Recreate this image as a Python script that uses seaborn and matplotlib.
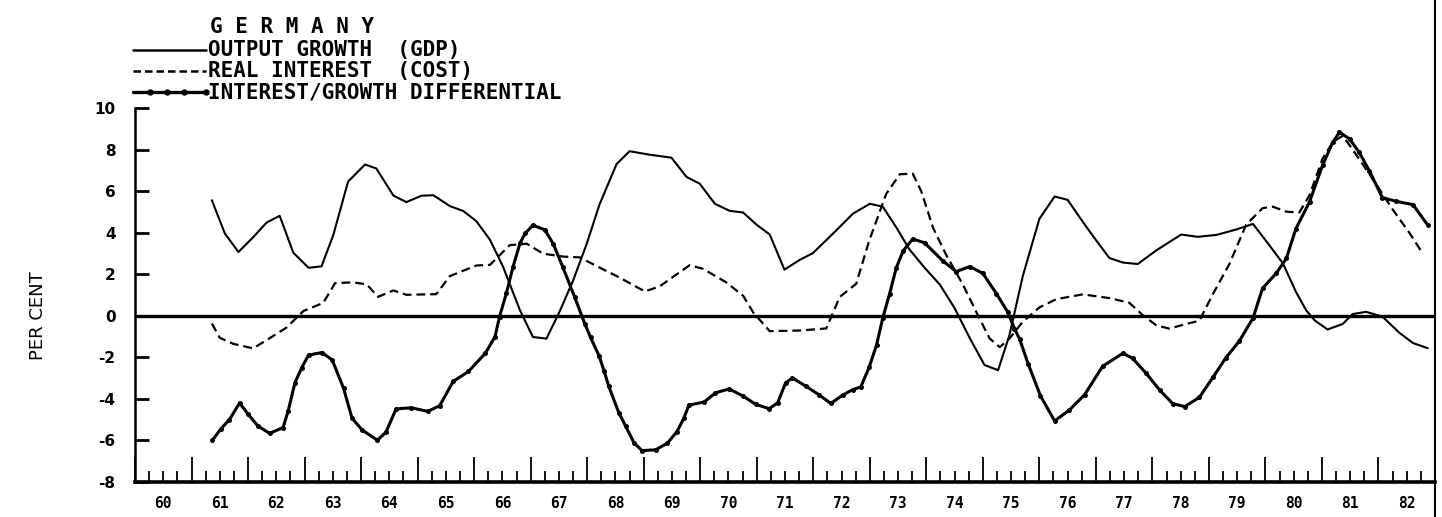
import matplotlib
matplotlib.use("Agg")
import matplotlib.pyplot as plt
from matplotlib.lines import Line2D
from matplotlib.ticker import FixedLocator
import seaborn as sns
import pandas as pd

# ---------------- data ----------------
growth_t = [1961.36, 1961.59, 1961.83, 1962.09, 1962.33, 1962.56, 1962.80, 1963.07, 1963.30, 1963.51,
            1963.77, 1964.07, 1964.27, 1964.57, 1964.80, 1965.07, 1965.28, 1965.57, 1965.81, 1966.04,
            1966.28, 1966.51, 1966.81, 1967.04, 1967.28, 1967.52, 1967.75, 1967.99, 1968.22, 1968.52,
            1968.75, 1969.11, 1969.49, 1969.76, 1969.99, 1970.26, 1970.52, 1970.76, 1970.99, 1971.23,
            1971.49, 1971.76, 1971.99, 1972.23, 1972.47, 1972.70, 1973.00, 1973.23, 1973.47, 1973.70,
            1973.97, 1974.24, 1974.50, 1974.77, 1975.03, 1975.27, 1975.47, 1975.71, 1976.00, 1976.27,
            1976.50, 1976.80, 1977.04, 1977.24, 1977.48, 1977.74, 1978.07, 1978.51, 1978.80, 1979.13,
            1979.48, 1979.78, 1980.04, 1980.31, 1980.54, 1980.72, 1980.87, 1981.10, 1981.37, 1981.54,
            1981.78, 1982.07, 1982.37, 1982.61, 1982.87]
growth_v = [5.56, 3.96, 3.07, 3.78, 4.49, 4.81, 3.04, 2.31, 2.38, 3.90,
            6.46, 7.28, 7.09, 5.79, 5.47, 5.78, 5.80, 5.28, 5.04, 4.55,
            3.66, 2.37, 0.27, -1.02, -1.10, 0.25, 1.69, 3.45, 5.37, 7.30,
            7.92, 7.75, 7.61, 6.68, 6.36, 5.39, 5.05, 4.97, 4.40, 3.91,
            2.22, 2.69, 3.01, 3.64, 4.28, 4.91, 5.39, 5.25, 4.25, 3.20,
            2.31, 1.50, 0.37, -1.08, -2.37, -2.62, -0.94, 1.94, 4.66, 5.74,
            5.58, 4.40, 3.50, 2.78, 2.56, 2.49, 3.15, 3.91, 3.80, 3.89,
            4.15, 4.42, 3.50, 2.52, 1.15, 0.27, -0.22, -0.66, -0.39, 0.08,
            0.19, -0.04, -0.82, -1.31, -1.56]

interest_t = [1961.36, 1961.50, 1961.74, 1962.09, 1962.40, 1962.68, 1962.98, 1963.33, 1963.54, 1963.86,
              1964.10, 1964.30, 1964.57, 1964.80, 1965.33, 1965.57, 1966.04, 1966.28, 1966.63, 1966.93,
              1967.22, 1967.57, 1967.87, 1968.22, 1968.58, 1969.02, 1969.28, 1969.81, 1970.05, 1970.46,
              1970.76, 1970.94, 1971.23, 1971.76, 1972.23, 1972.47, 1972.76, 1972.99, 1973.29, 1973.53,
              1973.76, 1973.91, 1974.12, 1974.35, 1974.65, 1974.91, 1975.12, 1975.30, 1975.47, 1975.70,
              1976.00, 1976.30, 1976.77, 1977.24, 1977.59, 1977.83, 1978.07, 1978.30, 1978.60, 1978.83,
              1979.07, 1979.36, 1979.66, 1979.95, 1980.13, 1980.37, 1980.60, 1980.78, 1981.01, 1981.19,
              1981.37, 1981.66, 1982.02, 1982.25, 1982.55, 1982.78]
interest_v = [-0.37, -1.06, -1.35, -1.57, -1.05, -0.57, 0.23, 0.62, 1.57, 1.61,
              1.51, 0.91, 1.22, 1.01, 1.04, 1.91, 2.42, 2.45, 3.40, 3.47,
              2.99, 2.85, 2.81, 2.32, 1.83, 1.17, 1.41, 2.43, 2.26, 1.61,
              0.96, 0.15, -0.74, -0.71, -0.61, 0.91, 1.54, 3.62, 5.86, 6.81,
              6.84, 6.00, 4.23, 2.94, 1.49, 0.04, -1.09, -1.51, -1.10, -0.31,
              0.40, 0.80, 1.03, 0.85, 0.63, 0.03, -0.46, -0.62, -0.39, -0.24,
              1.04, 2.48, 4.39, 5.18, 5.25, 5.01, 4.97, 5.80, 7.56, 8.35,
              8.67, 7.54, 6.08, 5.12, 3.98, 3.01]

diff_t = [1961.37, 1961.52, 1961.67, 1961.85, 1962.00, 1962.17, 1962.38, 1962.62, 1962.71, 1962.83,
          1962.95, 1963.07, 1963.31, 1963.49, 1963.69, 1963.84, 1964.02, 1964.29, 1964.44, 1964.62,
          1964.89, 1965.18, 1965.39, 1965.63, 1965.90, 1966.20, 1966.37, 1966.45, 1966.57, 1966.69,
          1966.81, 1966.90, 1967.04, 1967.25, 1967.40, 1967.57, 1967.78, 1967.96, 1968.06, 1968.21,
          1968.30, 1968.38, 1968.56, 1968.68, 1968.83, 1968.97, 1969.21, 1969.42, 1969.59, 1969.71,
          1969.80, 1970.07, 1970.27, 1970.51, 1970.75, 1970.98, 1971.22, 1971.37, 1971.51, 1971.63,
          1971.87, 1972.10, 1972.31, 1972.52, 1972.70, 1972.84, 1972.99, 1973.12, 1973.23, 1973.35,
          1973.47, 1973.59, 1973.76, 1973.97, 1974.30, 1974.53, 1974.77, 1975.00, 1975.24, 1975.44,
          1975.56, 1975.65, 1975.80, 1976.02, 1976.27, 1976.53, 1976.80, 1977.12, 1977.48, 1977.65,
          1977.89, 1978.13, 1978.36, 1978.57, 1978.83, 1979.07, 1979.30, 1979.54, 1979.78, 1979.95,
          1980.19, 1980.37, 1980.54, 1980.78, 1981.01, 1981.19, 1981.31, 1981.49, 1981.66, 1981.84,
          1982.07, 1982.31, 1982.61, 1982.87]
diff_v = [-5.99, -5.44, -5.00, -4.20, -4.73, -5.29, -5.66, -5.38, -4.58, -3.22,
          -2.50, -1.89, -1.77, -2.13, -3.49, -4.93, -5.50, -5.99, -5.60, -4.48,
          -4.43, -4.60, -4.33, -3.16, -2.68, -1.80, -1.00, -0.04, 1.08, 2.37,
          3.48, 3.96, 4.36, 4.14, 3.46, 2.34, 0.89, -0.40, -1.04, -1.93,
          -2.66, -3.38, -4.67, -5.31, -6.12, -6.49, -6.45, -6.13, -5.57, -4.93,
          -4.30, -4.15, -3.71, -3.52, -3.85, -4.26, -4.47, -4.19, -3.23, -2.99,
          -3.39, -3.80, -4.22, -3.82, -3.55, -3.43, -2.47, -1.40, -0.10, 1.05,
          2.32, 3.12, 3.70, 3.51, 2.62, 2.13, 2.37, 2.04, 1.07, 0.18,
          -0.62, -1.11, -2.30, -3.85, -5.06, -4.54, -3.80, -2.43, -1.80, -2.05,
          -2.77, -3.58, -4.23, -4.37, -3.93, -2.97, -2.02, -1.21, -0.11, 1.33,
          2.04, 2.76, 4.20, 5.48, 7.24, 8.35, 8.83, 8.51, 7.86, 6.97,
          5.68, 5.51, 5.35, 4.37]

year_labels = [str(y) for y in range(60, 83)]
y_ticks = [10, 8, 6, 4, 2, 0, -2, -4, -6, -8]

title = "G E R M A N Y"
legend_labels = ["OUTPUT GROWTH  (GDP)", "REAL INTEREST  (COST)", "INTEREST/GROWTH DIFFERENTIAL"]
ylabel = "PER CENT"

# ---------------- figure ----------------
sns.set_style("white")
plt.rcParams["font.family"] = ["DejaVu Sans Mono", "DejaVu Sans"]
plt.rcParams.update({"text.color": "black", "axes.labelcolor": "black",
                     "xtick.color": "black", "ytick.color": "black"})

W, H = 1442, 517
fig = plt.figure(figsize=(W / 100, H / 100), dpi=100)
ax = fig.add_axes([135 / W, 1 - 482 / H, 1300 / W, 374 / H])

df_g = pd.DataFrame({"t": growth_t, "v": growth_v})
df_i = pd.DataFrame({"t": interest_t, "v": interest_v})
df_d = pd.DataFrame({"t": diff_t, "v": diff_v})

ax.axhline(0, color="black", lw=2.4, zorder=1)
sns.lineplot(data=df_g, x="t", y="v", ax=ax, color="black", lw=1.5, sort=False, zorder=3)
sns.lineplot(data=df_i, x="t", y="v", ax=ax, color="black", lw=1.6, sort=False,
             dashes=False, zorder=3).lines[-1].set_dashes([4, 2.2])
sns.lineplot(data=df_d, x="t", y="v", ax=ax, color="black", lw=2.2, sort=False,
             marker="o", markersize=3.6, markeredgewidth=0, zorder=4)

ax.set_xlim(1960, 1983)
ax.set_ylim(-8, 10)
ax.set_xlabel("")
ax.set_ylabel("")

# spines
for s in ["top", "right"]:
    ax.spines[s].set_visible(False)
ax.spines["left"].set_linewidth(1.8)
ax.spines["bottom"].set_linewidth(2.6)
ax.spines["left"].set_color("black")
ax.spines["bottom"].set_color("black")

# y ticks
ax.set_yticks(y_ticks)
ax.set_yticklabels([str(v) for v in y_ticks], fontsize=11, fontweight="bold",
                   family="DejaVu Sans", color="black")
ax.tick_params(axis="y", direction="in", length=10, width=2, pad=14, left=True, colors="black")

# x ticks: tall at each year, short at quarters, labels centred in the year
ax.xaxis.set_major_locator(FixedLocator(list(range(1960, 1984))))
ax.xaxis.set_minor_locator(FixedLocator([y + q / 4 for y in range(1960, 1983) for q in (1, 2, 3)]))
ax.tick_params(axis="x", which="major", direction="in", length=18, width=1.3,
               labelbottom=False, bottom=True, colors="black")
ax.tick_params(axis="x", which="minor", direction="in", length=8, width=1.3, bottom=True,
               colors="black")

sec = ax.secondary_xaxis("bottom")
sec.set_xticks([1960.5 + i for i in range(len(year_labels))])
sec.set_xticklabels(year_labels, fontsize=10.5, fontweight="bold", family="DejaVu Sans Mono",
                    color="black")
sec.tick_params(length=0, pad=10)
sec.spines["bottom"].set_visible(False)

# y label
fig.text(38 / W, 1 - 316 / H, ylabel, rotation=90, ha="center", va="center",
         fontsize=13, family="DejaVu Sans", color="black")

# page border at right
fig.add_artist(Line2D([1435 / W, 1435 / W], [0, 1], color="black", lw=1.5,
                      transform=fig.transFigure))

# legend block
fs = 15
fig.text(210 / W, 1 - 27 / H, title, ha="left", va="center", fontsize=fs, fontweight="bold",
         color="black")
ys = [50, 71, 92]
styles = [dict(ls="-", lw=1.8), dict(ls=(0, (3, 1.6)), lw=1.8),
          dict(ls="-", lw=2.4, marker="o", markersize=3.6, markevery=[1, 2, 3, 4])]
for yy, lab, st in zip(ys, legend_labels, styles):
    xs = [133 / W, 150 / W, 167 / W, 184 / W, 206 / W]
    fig.add_artist(Line2D(xs, [1 - yy / H] * 5, color="black", transform=fig.transFigure, **st))
    fig.text(208 / W, 1 - yy / H, lab, ha="left", va="center", fontsize=fs, fontweight="bold",
             color="black")

fig.savefig("out.png", dpi=100, facecolor="white")
